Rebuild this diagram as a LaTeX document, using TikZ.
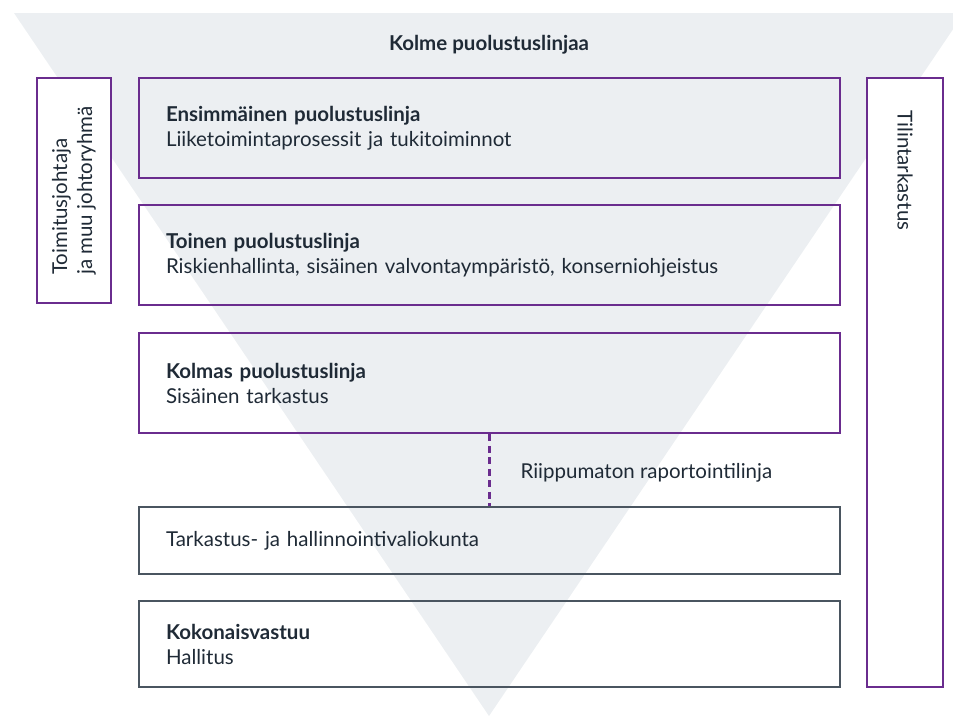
\documentclass[tikz,border=0pt]{standalone}
\usepackage{fontspec}
\setmainfont{Lato}
\usepackage{tikz}
\definecolor{linjapurple}{HTML}{6A2C8E}
\definecolor{kolmiogrey}{HTML}{ECEFF2}
\definecolor{tekstinavy}{HTML}{1F2A36}
\definecolor{reunagrey}{HTML}{4A5560}
\tikzset{
  linjabox/.style={draw=linjapurple,line width=2.5pt,minimum width=701pt,align=left,
    text width=647pt,inner xsep=27pt,text=tekstinavy},
  elinbox/.style={draw=reunagrey,line width=1.3pt,minimum width=701pt,align=left,
    text width=647pt,inner xsep=27pt,text=tekstinavy},
  sivubox/.style={draw=linjapurple,line width=2.5pt,fill=white},
  teksti/.style={text=tekstinavy}
}
\begin{document}
\begin{tikzpicture}[x=1pt,y=-1pt,font=\fontsize{20.5}{25}\selectfont]
\useasboundingbox (0,0) rectangle (953,716);
% background triangle
\fill[kolmiogrey] (14,13) -- (964,13) -- (489,716) -- cycle;
\node[teksti,font=\fontsize{20.5}{25}\selectfont\bfseries] (otsikko) at (489,45) {Kolme puolustuslinjaa};
% side boxes
\node[sivubox,minimum width=74pt,minimum height=225pt] (johto) at (74,190.5) {};
\node[teksti,rotate=90,align=left] (johtoteksti) at (johto.center) {Toimitusjohtaja\\ja muu johtoryhmä};
\node[sivubox,minimum width=76pt,minimum height=609pt] (tilin) at (905,382.5) {};
\node[teksti,rotate=-90,anchor=west] (tilinteksti) at ([yshift=-30pt]tilin.north) {Tilintarkastus};
% three lines of defence
\node[linjabox,minimum height=100pt] (eka) at (489.5,128)
  {\textbf{Ensimmäinen puolustuslinja}\\Liiketoimintaprosessit ja tukitoiminnot};
\node[linjabox,minimum height=100pt] (toka) at (489.5,255)
  {\textbf{Toinen puolustuslinja}\\Riskienhallinta, sisäinen valvontaympäristö, konserniohjeistus};
\node[linjabox,minimum height=100pt] (kolmas) at (489.5,383)
  {\textbf{Kolmas puolustuslinja}\\Sisäinen tarkastus};
% committee and board
\node[elinbox,minimum height=67pt] (valio) at (489.5,540.5)
  {Tarkastus- ja hallinnointivaliokunta};
\node[elinbox,minimum height=86pt] (hallitus) at (489.5,644)
  {\textbf{Kokonaisvastuu}\\Hallitus};
% reporting line
\draw[linjapurple,line width=2.5pt,dash pattern=on 7pt off 4.5pt] (kolmas.south) -- (valio.north);
\node[teksti,anchor=west] (raportti) at (517,473) {Riippumaton raportointilinja};
\end{tikzpicture}
\end{document}
